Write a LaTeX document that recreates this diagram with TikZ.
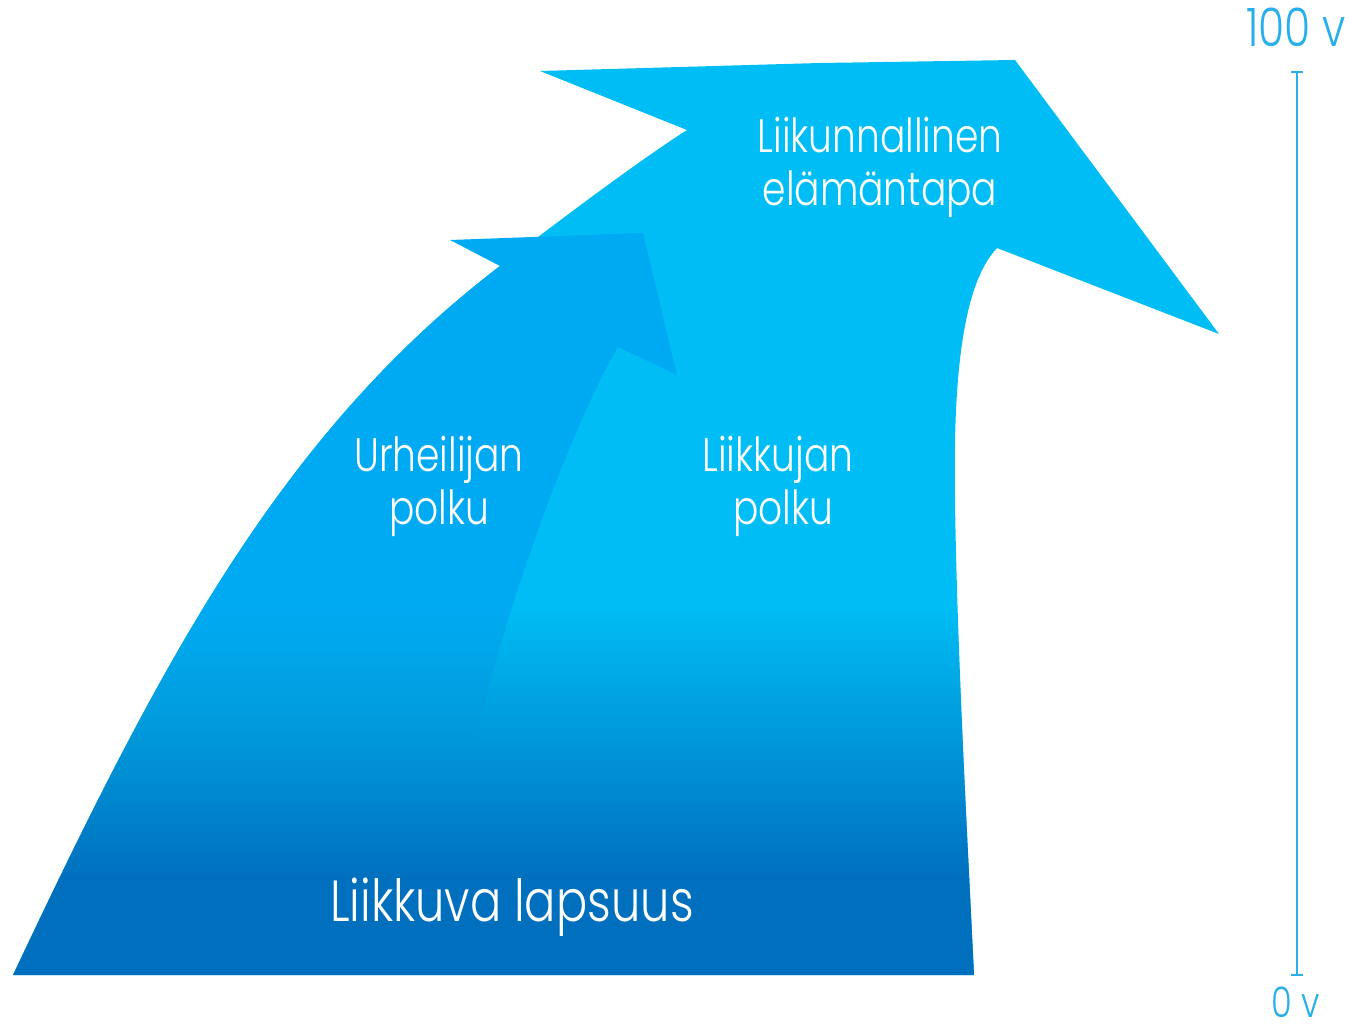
\documentclass[tikz,border=0pt]{standalone}
\usepackage{fontspec}
\setmainfont{Poppins}[UprightFont={* Light}, FakeStretch=0.8]
\usetikzlibrary{fadings}
\definecolor{cyanA}{RGB}{0,190,245}
\definecolor{cyanB}{RGB}{0,170,243}
\definecolor{deepblue}{RGB}{0,112,190}
\definecolor{barblue}{RGB}{40,175,235}
\tikzfading[name=bottomfade, top color=transparent!100, bottom color=transparent!0]
\tikzfading[name=downfade, top color=transparent!0, bottom color=transparent!100]
\begin{document}
\begin{tikzpicture}[x=1pt,y=-1pt,
  lbl/.style={text=white, anchor=base, inner sep=0pt, font=\fontsize{47}{55}\selectfont},
  biglbl/.style={text=white, anchor=base, inner sep=0pt, font=\fontsize{58}{66}\selectfont},
  barlbl/.style={text=barblue, anchor=base, inner sep=0pt, font=\fontsize{53}{60}\selectfont},
  smallbarlbl/.style={barlbl, font=\fontsize{42}{48}\selectfont},
  bar/.style={draw=barblue, line width=2.2pt}]
\useasboundingbox (0,0) rectangle (1355,1033);
\def\outerpath{(540,71) -- (820,63) -- (1015,60) -- (1219,334) -- (997,248)
  .. controls (962,285) and (953,380) .. (955,500)
  .. controls (957,650) and (968,850) .. (974,975) -- (13,975)
  .. controls (155,674.7) and (276,436.8) .. (500,266)
  .. controls (556,223) and (637,162) .. (687,130) -- cycle}
\def\innerpath{(450,240) -- (643,233) -- (677,375) -- (618,347)
  .. controls (575,420) and (515,580) .. (480,720)
  .. controls (465,780) and (455,880) .. (450,975) -- (13,975)
  .. controls (155,674.7) and (276,436.8) .. (500,266) -- cycle}
% main arrow
\fill[cyanA] \outerpath;
% inner arrow (its lower part fades into the main arrow)
\begin{scope}
  \clip \innerpath;
  \fill[cyanB] (0,0) rectangle (1355,601);
  \fill[cyanB, path fading=downfade] (0,600) rectangle (1355,740);
\end{scope}
% dark gradient towards the bottom
\begin{scope}
  \clip \outerpath;
  \fill[deepblue, path fading=bottomfade] (0,605) rectangle (1355,880);
  \fill[deepblue] (0,879) rectangle (1355,1000);
\end{scope}
% labels
\node[lbl] (l1) at (880,152) {Liikunnallinen};
\node[lbl] (l2) at (880,205) {elämäntapa};
\node[lbl] (u1) at (439,471) {Urheilijan};
\node[lbl] (u2) at (439,524) {polku};
\node[lbl] (k1) at (778,471) {Liikkujan};
\node[lbl] (k2) at (783,524) {polku};
\node[biglbl] (lap) at (512,921) {Liikkuva lapsuus};
% age scale
\coordinate (bt) at (1297,72);
\coordinate (bb) at (1297,975);
\draw[bar] (bt) -- (bb);
\draw[bar] ([xshift=-6pt]bt) -- ([xshift=6pt]bt);
\draw[bar] ([xshift=-6pt]bb) -- ([xshift=6pt]bb);
\node[barlbl] (top) at (1296,47) {100 v};
\node[smallbarlbl] (bot) at (1296,1017) {0 v};
\end{tikzpicture}
\end{document}
